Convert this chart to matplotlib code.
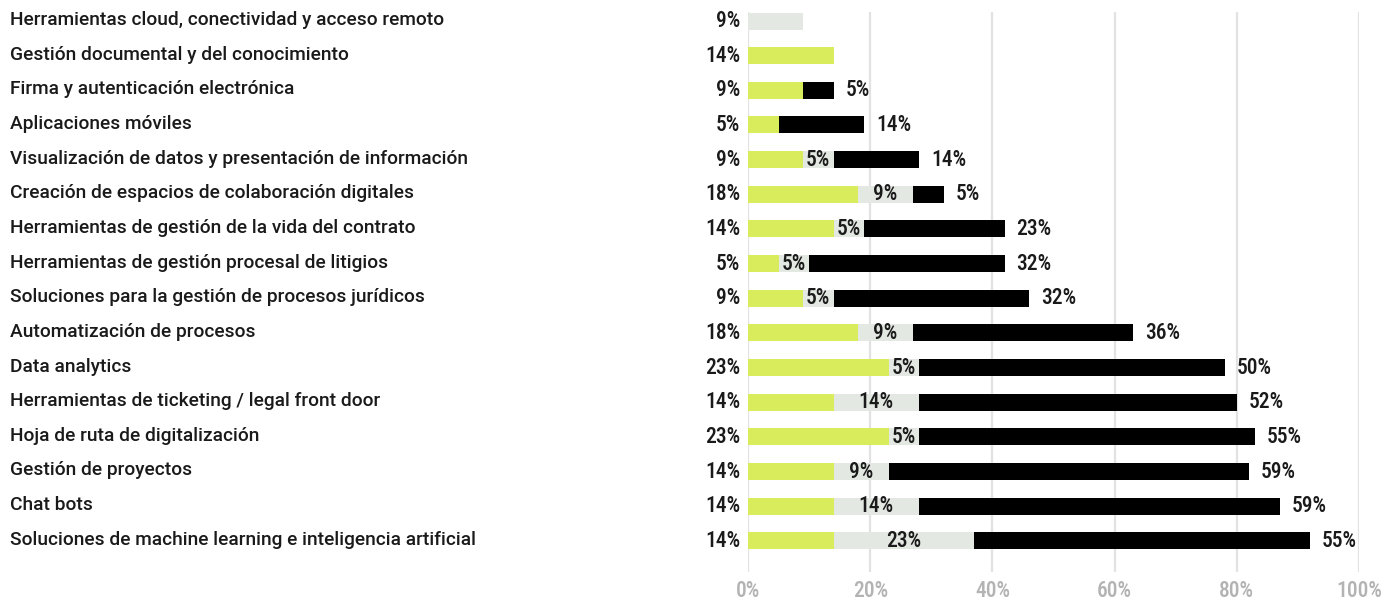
import matplotlib
matplotlib.use("Agg")
import matplotlib.pyplot as plt
import matplotlib.transforms as mtransforms

categories = [
    "Herramientas cloud, conectividad y acceso remoto",
    "Gestión documental y del conocimiento",
    "Firma y autenticación electrónica",
    "Aplicaciones móviles",
    "Visualización de datos y presentación de información",
    "Creación de espacios de colaboración digitales",
    "Herramientas de gestión de la vida del contrato",
    "Herramientas de gestión procesal de litigios",
    "Soluciones para la gestión de procesos jurídicos",
    "Automatización de procesos",
    "Data analytics",
    "Herramientas de ticketing / legal front door",
    "Hoja de ruta de digitalización",
    "Gestión de proyectos",
    "Chat bots",
    "Soluciones de machine learning e inteligencia artificial",
]
green_vals = [0, 14, 9, 5, 9, 18, 14, 5, 9, 18, 23, 14, 23, 14, 14, 14]
grey_vals = [9, 0, 0, 0, 5, 9, 5, 5, 5, 9, 5, 14, 5, 9, 14, 23]
black_vals = [0, 0, 5, 14, 14, 5, 23, 32, 32, 36, 50, 52, 55, 59, 59, 55]
x_ticks = [0, 20, 40, 60, 80, 100]
x_tick_labels = ["0%", "20%", "40%", "60%", "80%", "100%"]

GREEN = "#d9ec5b"
GREY = "#e3e8e2"
BLACK = "#000000"
NUM_FONT = ["Roboto Condensed", "Roboto", "DejaVu Sans"]
CAT_FONT = ["Roboto", "DejaVu Sans"]

W, H, DPI = 1398, 603, 100
fig = plt.figure(figsize=(W / DPI, H / DPI), dpi=DPI)
fig.patch.set_facecolor("white")
ax = fig.add_axes([748 / W, 1 - 572 / H, (1359 - 748) / W, (572 - 12) / H])

y = list(range(len(categories)))
bar_h = 0.49
ax.barh(y, green_vals, height=bar_h, color=GREEN, zorder=3)
ax.barh(y, grey_vals, left=green_vals, height=bar_h, color=GREY, zorder=3)
lefts_black = [g + m for g, m in zip(green_vals, grey_vals)]
ax.barh(y, black_vals, left=lefts_black, height=bar_h, color=BLACK, zorder=3)

ax.set_xlim(0, 100)
ax.set_ylim(15.9, -0.26)
ax.set_xticks(x_ticks)
ax.set_xticklabels(x_tick_labels, color="#b3b3b3", fontsize=15.5,
                   fontweight="medium", family=NUM_FONT)
ax.tick_params(axis="x", length=0, pad=6)
ax.set_yticks([])
ax.grid(axis="x", color="#e2e2e2", linewidth=1.6, zorder=0)
for s in ax.spines.values():
    s.set_visible(False)

num_kw = dict(fontsize=15.5, fontweight="medium", family=NUM_FONT,
              color="#1a1a1a", va="center", zorder=5)
px = 100 / (1359 - 748)  # one pixel in data units
for i, (g, m, b) in enumerate(zip(green_vals, grey_vals, black_vals)):
    first = g if g > 0 else m
    ax.text(-8 * px, i, f"{first}%", ha="right", **num_kw)
    if g > 0 and m > 0:
        ax.text(g + m / 2, i, f"{m}%", ha="center", **num_kw)
    if b > 0:
        ax.text(g + m + b + 12 * px, i, f"{b}%", ha="left", **num_kw)

trans = mtransforms.blended_transform_factory(fig.transFigure, ax.transData)
for i, cat in enumerate(categories):
    ax.text(10 / W, i - 0.03, cat, transform=trans, ha="left", va="center",
            fontsize=13.75, fontweight="medium", family=CAT_FONT, color="#1a1a1a")

fig.savefig("out.png", dpi=DPI)
